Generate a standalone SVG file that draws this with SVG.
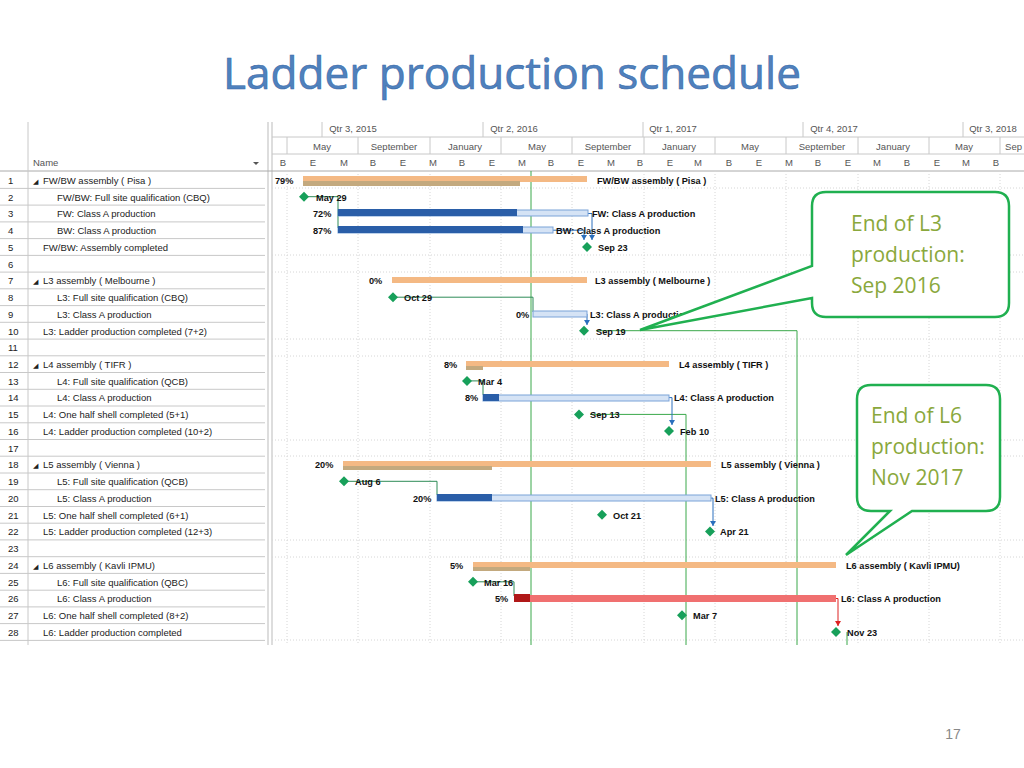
<svg xmlns="http://www.w3.org/2000/svg" width="1024" height="768" viewBox="0 0 1024 768">
<style>
text{font-family:"Liberation Sans",Arial,sans-serif}
.n{font-size:9.5px;fill:#222}
.h{font-size:9.5px;fill:#555}
.l{font-size:9.2px;fill:#111;font-weight:bold}
.g{stroke:#c8c8c8;stroke-width:1}
.d{stroke:#d6d6d6;stroke-width:1;stroke-dasharray:1 2}
.co{font-size:21px;fill:#8aa83c;font-family:"Open Sans","Liberation Sans",sans-serif}
.cb{fill:#fff;stroke:#20b050;stroke-width:2.5}
.sum{fill:#f4b984}
.prog{fill:#c3a97e}
.dk{fill:#2a5ea8}
.lt{fill:#d5e3f5;stroke:#7ba3d8;stroke-width:1}
.ms{fill:#17a05a}
.lk{fill:none;stroke:#2e8b57;stroke-width:1}
.vl{stroke:#3aa84a;stroke-width:1}
</style>
<defs>
<polygon id="dm" points="0,-5 5,0 0,5 -5,0" class="ms"/>
<marker id="ab" markerWidth="6" markerHeight="6" refX="3" refY="5" orient="0"><path d="M0,0 L6,0 L3,5 z" fill="#2a6fbd"/></marker>
<marker id="ar" markerWidth="6" markerHeight="6" refX="3" refY="5" orient="0"><path d="M0,0 L6,0 L3,5 z" fill="#d22"/></marker>
</defs>
<rect width="1024" height="768" fill="#fff"/>
<text x="512" y="89" text-anchor="middle" font-size="44" fill="#4f81bd" textLength="578" lengthAdjust="spacingAndGlyphs" stroke="#3a6aa8" stroke-width="0.6" style="font-family:'Open Sans','Liberation Sans',sans-serif">Ladder production schedule</text>
<g id="header">
<line x1="268" y1="122" x2="268" y2="645" stroke="#bbb"/>
<line x1="272" y1="122" x2="272" y2="645" stroke="#bbb"/>
<line x1="272" y1="137" x2="1024" y2="137" class="g"/>
<line x1="272" y1="154" x2="1024" y2="154" class="g"/>
<line x1="0" y1="171" x2="1024" y2="171" stroke="#aaa"/>
<g class="h" text-anchor="middle">
<text x="353" y="132">Qtr 3, 2015</text><text x="514" y="132">Qtr 2, 2016</text><text x="673" y="132">Qtr 1, 2017</text><text x="834" y="132">Qtr 4, 2017</text><text x="993" y="132">Qtr 3, 2018</text>
<text x="322" y="150">May</text><text x="394" y="150">September</text><text x="465" y="150">January</text><text x="537" y="150">May</text><text x="608" y="150">September</text><text x="679" y="150">January</text><text x="750" y="150">May</text><text x="822" y="150">September</text><text x="893" y="150">January</text><text x="964" y="150">May</text><text x="1022" y="150" text-anchor="end">Sep</text>
<text x="283" y="166">B</text><text x="313" y="166">E</text><text x="344" y="166">M</text><text x="373" y="166">B</text><text x="403" y="166">E</text><text x="433" y="166">M</text><text x="462" y="166">B</text><text x="492" y="166">E</text><text x="522" y="166">M</text><text x="551" y="166">B</text><text x="581" y="166">E</text><text x="611" y="166">M</text><text x="640" y="166">B</text><text x="670" y="166">E</text><text x="698" y="166">M</text><text x="729" y="166">B</text><text x="759" y="166">E</text><text x="789" y="166">M</text><text x="818" y="166">B</text><text x="848" y="166">E</text><text x="877" y="166">M</text><text x="907" y="166">B</text><text x="937" y="166">E</text><text x="966" y="166">M</text><text x="996" y="166">B</text>
</g>
<g class="g">
<line x1="322" y1="122" x2="322" y2="137"/><line x1="483" y1="122" x2="483" y2="137"/><line x1="643" y1="122" x2="643" y2="137"/><line x1="803" y1="122" x2="803" y2="137"/><line x1="963" y1="122" x2="963" y2="137"/>
<line x1="287" y1="137" x2="287" y2="154"/><line x1="358" y1="137" x2="358" y2="154"/><line x1="430" y1="137" x2="430" y2="154"/><line x1="501" y1="137" x2="501" y2="154"/><line x1="572" y1="137" x2="572" y2="154"/><line x1="644" y1="137" x2="644" y2="154"/><line x1="715" y1="137" x2="715" y2="154"/><line x1="786" y1="137" x2="786" y2="154"/><line x1="858" y1="137" x2="858" y2="154"/><line x1="929" y1="137" x2="929" y2="154"/><line x1="1000" y1="137" x2="1000" y2="154"/>
</g>
<g class="d">
<line x1="287" y1="171" x2="287" y2="645"/><line x1="358" y1="171" x2="358" y2="645"/><line x1="430" y1="171" x2="430" y2="645"/><line x1="501" y1="171" x2="501" y2="645"/><line x1="572" y1="171" x2="572" y2="645"/><line x1="644" y1="171" x2="644" y2="645"/><line x1="715" y1="171" x2="715" y2="645"/><line x1="786" y1="171" x2="786" y2="645"/><line x1="858" y1="171" x2="858" y2="645"/><line x1="929" y1="171" x2="929" y2="645"/><line x1="1000" y1="171" x2="1000" y2="645"/>
<line x1="272" y1="188" x2="1024" y2="188"/><line x1="272" y1="255" x2="1024" y2="255"/><line x1="272" y1="272" x2="1024" y2="272"/><line x1="272" y1="339" x2="1024" y2="339"/><line x1="272" y1="356" x2="1024" y2="356"/><line x1="272" y1="440" x2="1024" y2="440"/><line x1="272" y1="456" x2="1024" y2="456"/><line x1="272" y1="540" x2="1024" y2="540"/><line x1="272" y1="557" x2="1024" y2="557"/><line x1="272" y1="640" x2="1024" y2="640"/>
</g>
<text x="33" y="166" class="h">Name</text>
<path d="M253,162 l6,0 l-3,3 z" fill="#555"/>
<line x1="28" y1="122" x2="28" y2="645" class="g"/>
</g>
<g id="table" class="n">
<g class="g">
<line x1="0" y1="188.4" x2="265" y2="188.4"/><line x1="0" y1="205.1" x2="265" y2="205.1"/><line x1="0" y1="221.9" x2="265" y2="221.9"/><line x1="0" y1="238.6" x2="265" y2="238.6"/><line x1="0" y1="255.4" x2="265" y2="255.4"/><line x1="0" y1="272.1" x2="265" y2="272.1"/><line x1="0" y1="288.8" x2="265" y2="288.8"/><line x1="0" y1="305.6" x2="265" y2="305.6"/><line x1="0" y1="322.3" x2="265" y2="322.3"/><line x1="0" y1="339.1" x2="265" y2="339.1"/><line x1="0" y1="355.8" x2="265" y2="355.8"/><line x1="0" y1="372.5" x2="265" y2="372.5"/><line x1="0" y1="389.3" x2="265" y2="389.3"/><line x1="0" y1="406" x2="265" y2="406"/><line x1="0" y1="422.8" x2="265" y2="422.8"/><line x1="0" y1="439.5" x2="265" y2="439.5"/><line x1="0" y1="456.2" x2="265" y2="456.2"/><line x1="0" y1="473" x2="265" y2="473"/><line x1="0" y1="489.7" x2="265" y2="489.7"/><line x1="0" y1="506.5" x2="265" y2="506.5"/><line x1="0" y1="523.2" x2="265" y2="523.2"/><line x1="0" y1="539.9" x2="265" y2="539.9"/><line x1="0" y1="556.7" x2="265" y2="556.7"/><line x1="0" y1="573.4" x2="265" y2="573.4"/><line x1="0" y1="590.2" x2="265" y2="590.2"/><line x1="0" y1="606.9" x2="265" y2="606.9"/><line x1="0" y1="623.6" x2="265" y2="623.6"/><line x1="0" y1="640.4" x2="265" y2="640.4"/>
</g>
<text x="8" y="184">1</text><text x="33" y="184" font-size="7">◢</text><text x="43" y="184">FW/BW assembly ( Pisa )</text>
<text x="8" y="200.5">2</text><text x="57" y="200.5">FW/BW: Full site qualification (CBQ)</text>
<text x="8" y="217.3">3</text><text x="57" y="217.3">FW: Class A production</text>
<text x="8" y="234">4</text><text x="57" y="234">BW: Class A production</text>
<text x="8" y="250.8">5</text><text x="43" y="250.8">FW/BW: Assembly completed</text>
<text x="8" y="267.5">6</text>
<text x="8" y="284.2">7</text><text x="33" y="284.2" font-size="7">◢</text><text x="43" y="284.2">L3 assembly ( Melbourne )</text>
<text x="8" y="301">8</text><text x="57" y="301">L3: Full site qualification (CBQ)</text>
<text x="8" y="317.7">9</text><text x="57" y="317.7">L3: Class A production</text>
<text x="8" y="334.5">10</text><text x="43" y="334.5">L3: Ladder production completed (7+2)</text>
<text x="8" y="351.2">11</text>
<text x="8" y="367.9">12</text><text x="33" y="367.9" font-size="7">◢</text><text x="43" y="367.9">L4 assembly ( TIFR )</text>
<text x="8" y="384.7">13</text><text x="57" y="384.7">L4: Full site qualification (QCB)</text>
<text x="8" y="401.4">14</text><text x="57" y="401.4">L4: Class A production</text>
<text x="8" y="418.2">15</text><text x="43" y="418.2">L4: One half shell completed (5+1)</text>
<text x="8" y="434.9">16</text><text x="43" y="434.9">L4: Ladder production completed (10+2)</text>
<text x="8" y="451.6">17</text>
<text x="8" y="468.4">18</text><text x="33" y="468.4" font-size="7">◢</text><text x="43" y="468.4">L5 assembly ( Vienna )</text>
<text x="8" y="485.1">19</text><text x="57" y="485.1">L5: Full site qualification (QCB)</text>
<text x="8" y="501.9">20</text><text x="57" y="501.9">L5: Class A production</text>
<text x="8" y="518.6">21</text><text x="43" y="518.6">L5: One half shell completed (6+1)</text>
<text x="8" y="535.3">22</text><text x="43" y="535.3">L5: Ladder production completed (12+3)</text>
<text x="8" y="552.1">23</text>
<text x="8" y="568.8">24</text><text x="33" y="568.8" font-size="7">◢</text><text x="43" y="568.8">L6 assembly ( Kavli IPMU)</text>
<text x="8" y="585.6">25</text><text x="57" y="585.6">L6: Full site qualification (QBC)</text>
<text x="8" y="602.3">26</text><text x="57" y="602.3">L6: Class A production</text>
<text x="8" y="619">27</text><text x="43" y="619">L6: One half shell completed (8+2)</text>
<text x="8" y="635.8">28</text><text x="43" y="635.8">L6: Ladder production completed</text>
</g>
<g id="connectors">
<line x1="531" y1="171" x2="531" y2="645" class="vl"/>
<polyline points="596,330.7 797,330.7 797,645" class="vl" fill="none"/>
<polyline points="590,414.4 686,414.4 686,645" class="vl" fill="none"/>
<polyline points="304,196.7 338,196.7 338,228" class="lk"/>
<polyline points="393,297.2 533,297.2 533,312" class="lk"/>
<polyline points="344,481.3 437,481.3 437,495" class="lk"/>
<polyline points="467,380.9 483,380.9 483,395" class="lk"/>
<polyline points="473,581.8 514,581.8 514,596" class="lk"/>
<polyline points="588,213.5 592,213.5 592,240" fill="none" stroke="#2a6fbd" marker-end="url(#ab)"/>
<polyline points="553,230.2 584,230.2 584,240" fill="none" stroke="#2a6fbd" marker-end="url(#ab)"/>
<polyline points="587,313.9 587,325" fill="none" stroke="#2a6fbd" marker-end="url(#ab)"/>
<polyline points="669,397.6 672,397.6 672,425" fill="none" stroke="#2a6fbd" marker-end="url(#ab)"/>
<polyline points="711,498.1 713,498.1 713,526" fill="none" stroke="#2a6fbd" marker-end="url(#ab)"/>
<polyline points="836,598.5 838,598.5 838,626" fill="none" stroke="#d22" marker-end="url(#ar)"/>
<line x1="847" y1="632" x2="847" y2="645" class="vl"/>
</g>
<g id="bars">
<rect x="303" y="176" width="284" height="6" class="sum"/><rect x="303" y="181" width="217" height="5" class="prog"/>
<rect x="338" y="210" width="250" height="6" class="lt"/><rect x="338" y="209" width="179" height="7" class="dk"/>
<rect x="338" y="227" width="215" height="6" class="lt"/><rect x="338" y="226" width="185" height="7" class="dk"/>
<rect x="392" y="277" width="195" height="6" class="sum"/>
<rect x="533" y="311" width="54" height="6" class="lt"/>
<rect x="466" y="361" width="203" height="6" class="sum"/><rect x="466" y="366" width="17" height="4" class="prog"/>
<rect x="483" y="395" width="186" height="6" class="lt"/><rect x="483" y="394" width="16" height="7" class="dk"/>
<rect x="343" y="461" width="368" height="6" class="sum"/><rect x="343" y="466" width="149" height="4" class="prog"/>
<rect x="437" y="495" width="274" height="6" class="lt"/><rect x="437" y="494" width="55" height="7" class="dk"/>
<rect x="473" y="562" width="363" height="6" class="sum"/><rect x="473" y="567" width="57" height="4" class="prog"/>
<rect x="514" y="595" width="322" height="7" fill="#f07070"/><rect x="514" y="594" width="16" height="8" fill="#b01818"/>
</g>
<g id="milestones">
<use href="#dm" x="304" y="196.7"/><use href="#dm" x="587" y="247"/><use href="#dm" x="393" y="297.2"/><use href="#dm" x="584" y="330.7"/><use href="#dm" x="467" y="380.9"/><use href="#dm" x="579" y="414.4"/><use href="#dm" x="669" y="431.1"/><use href="#dm" x="344" y="481.3"/><use href="#dm" x="602" y="514.8"/><use href="#dm" x="710" y="531.5"/><use href="#dm" x="473" y="581.8"/><use href="#dm" x="682" y="615.2"/><use href="#dm" x="836" y="632"/>
</g>
<g id="labels" class="l">
<text x="275" y="184">79%</text><text x="597" y="184">FW/BW assembly ( Pisa )</text>
<text x="316" y="200.5">May 29</text>
<text x="313" y="217.3">72%</text><text x="592" y="217.3">FW: Class A production</text>
<text x="313" y="234">87%</text><text x="556" y="234">BW: Class A production</text>
<text x="598" y="250.8">Sep 23</text>
<text x="369" y="284.2">0%</text><text x="595" y="284.2">L3 assembly ( Melbourne )</text>
<text x="404" y="301">Oct 29</text>
<text x="516" y="317.7">0%</text><text x="590" y="317.7">L3: Class A production</text>
<text x="596" y="334.5">Sep 19</text>
<text x="444" y="367.9">8%</text><text x="679" y="367.9">L4 assembly ( TIFR )</text>
<text x="478" y="384.7">Mar 4</text>
<text x="465" y="401.4">8%</text><text x="674" y="401.4">L4: Class A production</text>
<text x="590" y="418.2">Sep 13</text>
<text x="680" y="434.9">Feb 10</text>
<text x="315" y="468.4">20%</text><text x="721" y="468.4">L5 assembly ( Vienna )</text>
<text x="355" y="485.1">Aug 6</text>
<text x="413" y="501.9">20%</text><text x="715" y="501.9">L5: Class A production</text>
<text x="613" y="518.6">Oct 21</text>
<text x="720" y="535.3">Apr 21</text>
<text x="450" y="568.8">5%</text><text x="846" y="568.8">L6 assembly ( Kavli IPMU)</text>
<text x="484" y="585.6">Mar 16</text>
<text x="495" y="602.3">5%</text><text x="841" y="602.3">L6: Class A production</text>
<text x="693" y="619">Mar 7</text>
<text x="847" y="635.8">Nov 23</text>
</g>
<g id="callout1">
<path d="M826,192 H995 Q1009,192 1009,206 V303 Q1009,317 995,317 H826 Q812,317 812,303 V298 L640,330 L812,266 V206 Q812,192 826,192 Z" class="cb"/>
<text x="851" y="231" class="co">End of L3</text><text x="851" y="262" class="co">production:</text><text x="851" y="293" class="co">Sep 2016</text>
</g>
<g id="callout2">
<path d="M871,385 H986 Q1000,385 1000,399 V497 Q1000,511 986,511 H912 L846,555 L890,511 H871 Q857,511 857,497 V399 Q857,385 871,385 Z" class="cb"/>
<text x="871" y="423" class="co">End of L6</text><text x="871" y="454" class="co">production:</text><text x="871" y="485" class="co">Nov 2017</text>
</g>
<text x="953" y="739" text-anchor="middle" font-size="14" fill="#888">17</text>
</svg>
